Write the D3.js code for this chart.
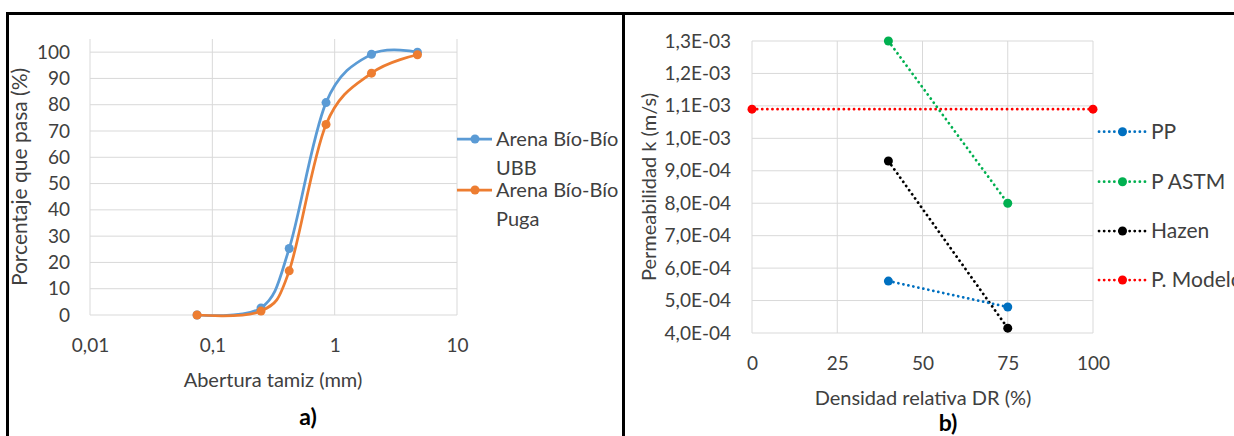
<!DOCTYPE html>
<html>
<head>
<meta charset="utf-8">
<script src="https://cdn.jsdelivr.net/npm/d3@7"></script>
<style>
  html, body { margin: 0; padding: 0; background: #fff; }
  svg { display: block; }
  text { font-family: Lato, "Noto Sans", sans-serif; fill: #404040; }
</style>
</head>
<body>
<svg id="chart" width="1234" height="436"></svg>
<script>
// ---------- Data: panel a) granulometry ----------
const sieveSizes = [0.075, 0.25, 0.425, 0.85, 2, 4.75];
const passUBB    = [0, 2.7, 25.3, 80.8, 99.2, 100];
const passPuga   = [0, 1.5, 16.8, 72.5, 92, 99];
const seriesNamesA = ["Arena Bío-Bío UBB", "Arena Bío-Bío Puga"];
const sieveTicks = [0.01, 0.1, 1, 10];
const sieveTickLabels = ["0,01", "0,1", "1", "10"];
const passTicks = [0, 10, 20, 30, 40, 50, 60, 70, 80, 90, 100];

// ---------- Data: panel b) permeability ----------
const densities = [40, 75];
const kPP    = [5.6e-4, 4.8e-4];
const kASTM  = [1.3e-3, 8.0e-4];
const kHazen = [9.3e-4, 4.15e-4];
const modeloDensities = [0, 100];
const kModelo = [1.09e-3, 1.09e-3];
const seriesNamesB = ["PP", "P ASTM", "Hazen", "P. Modelo"];
const drTicks = [0, 25, 50, 75, 100];
const kTicks = [4e-4, 5e-4, 6e-4, 7e-4, 8e-4, 9e-4, 1.0e-3, 1.1e-3, 1.2e-3, 1.3e-3];
const kTickLabels = ["4,0E-04", "5,0E-04", "6,0E-04", "7,0E-04", "8,0E-04", "9,0E-04",
                     "1,0E-03", "1,1E-03", "1,2E-03", "1,3E-03"];

const svg = d3.select("#chart");
svg.append("rect").attr("width", 1234).attr("height", 436).attr("fill", "#fff");

const gridColor = "#d9d9d9";
const FS_TICK = 19;
const FS = 20;

// ---------- Panel a ----------
const xA = d3.scaleLog().domain([0.01, 10]).range([90, 457]);
const yA = d3.scaleLinear().domain([0, 105]).range([315, 39]);

const gA = svg.append("g");
gA.selectAll("line.hg").data(passTicks).join("line")
  .attr("x1", xA(0.01)).attr("x2", xA(10))
  .attr("y1", d => yA(d)).attr("y2", d => yA(d))
  .attr("stroke", gridColor).attr("stroke-width", 1);
gA.selectAll("line.vg").data(sieveTicks).join("line")
  .attr("x1", d => xA(d)).attr("x2", d => xA(d))
  .attr("y1", yA(105)).attr("y2", yA(0))
  .attr("stroke", gridColor).attr("stroke-width", 1);

const axLeftA = gA.append("g").attr("transform", `translate(${xA(0.01)},0)`)
  .call(d3.axisLeft(yA).tickValues(passTicks).tickSize(0).tickPadding(20));
const axBotA = gA.append("g").attr("transform", `translate(0,${yA(0)})`)
  .call(d3.axisBottom(xA).tickValues(sieveTicks).tickSize(0).tickPadding(24)
    .tickFormat((d, i) => sieveTickLabels[i]));
[axLeftA, axBotA].forEach(a => {
  a.select(".domain").remove();
  a.selectAll("text").attr("font-size", FS_TICK).attr("font-family", null).attr("fill", "#404040");
});

const colorsA = ["#5B9BD5", "#ED7D31"];
const lineA = d3.line().x(d => xA(d[0])).y(d => yA(d[1])).curve(d3.curveCardinal.tension(0));
[passUBB, passPuga].forEach((vals, s) => {
  const pts = sieveSizes.map((x, i) => [x, vals[i]]);
  gA.append("path").datum(pts).attr("d", lineA)
    .attr("fill", "none").attr("stroke", colorsA[s]).attr("stroke-width", 2.75);
  gA.selectAll(null).data(pts).join("circle")
    .attr("cx", d => xA(d[0])).attr("cy", d => yA(d[1])).attr("r", 4.5)
    .attr("fill", colorsA[s]);
});

const legA = [{y: 139, lines: ["Arena Bío-Bío", "UBB"]}, {y: 190, lines: ["Arena Bío-Bío", "Puga"]}];
legA.forEach((L, s) => {
  gA.append("line").attr("x1", 457).attr("x2", 492).attr("y1", L.y).attr("y2", L.y)
    .attr("stroke", colorsA[s]).attr("stroke-width", 2.75);
  gA.append("circle").attr("cx", 475).attr("cy", L.y).attr("r", 4.5).attr("fill", colorsA[s]);
  L.lines.forEach((t, j) => {
    gA.append("text").attr("x", 496).attr("y", L.y + j * 29).attr("dy", "0.35em")
      .attr("font-size", FS).text(t);
  });
});

gA.append("text").attr("transform", "translate(20,177) rotate(-90)")
  .attr("text-anchor", "middle").attr("dy", "0.35em").attr("font-size", FS + 1)
  .text("Porcentaje que pasa (%)");
gA.append("text").attr("x", 273).attr("y", 380).attr("text-anchor", "middle")
  .attr("dy", "0.35em").attr("font-size", FS).text("Abertura tamiz (mm)");
gA.append("text").attr("x", 308).attr("y", 417).attr("text-anchor", "middle")
  .attr("dy", "0.35em").attr("font-size", 23).attr("font-weight", "bold")
  .style("fill", "#000").text("a)");

// ---------- Panel b ----------
const xB = d3.scaleLinear().domain([0, 100]).range([752, 1093]);
const yB = d3.scaleLinear().domain([4e-4, 1.3e-3]).range([333, 41]);
const gB = svg.append("g");

gB.selectAll("line.hg").data(kTicks).join("line")
  .attr("x1", xB(0)).attr("x2", xB(100))
  .attr("y1", d => yB(d)).attr("y2", d => yB(d))
  .attr("stroke", gridColor).attr("stroke-width", 1);
gB.selectAll("line.vg").data(drTicks).join("line")
  .attr("x1", d => xB(d)).attr("x2", d => xB(d))
  .attr("y1", yB(1.3e-3)).attr("y2", yB(4e-4))
  .attr("stroke", gridColor).attr("stroke-width", 1);

const axLeftB = gB.append("g").attr("transform", `translate(${xB(0)},0)`)
  .call(d3.axisLeft(yB).tickValues(kTicks).tickSize(0).tickPadding(21)
    .tickFormat((d, i) => kTickLabels[i]));
const axBotB = gB.append("g").attr("transform", `translate(0,${yB(4e-4)})`)
  .call(d3.axisBottom(xB).tickValues(drTicks).tickSize(0).tickPadding(24));
[axLeftB, axBotB].forEach(a => {
  a.select(".domain").remove();
  a.selectAll("text").attr("font-size", FS_TICK).attr("font-family", null).attr("fill", "#404040");
});

const colorsB = ["#0070C0", "#00B050", "#000000", "#FF0000"];
const seriesB = [
  densities.map((x, i) => [x, kPP[i]]),
  densities.map((x, i) => [x, kASTM[i]]),
  densities.map((x, i) => [x, kHazen[i]]),
  modeloDensities.map((x, i) => [x, kModelo[i]])
];
const lineB = d3.line().x(d => xB(d[0])).y(d => yB(d[1]));
const drawOrder = [3, 1, 2, 0];
drawOrder.forEach(s => {
  gB.append("path").datum(seriesB[s]).attr("d", lineB)
    .attr("fill", "none").attr("stroke", colorsB[s]).attr("stroke-width", 2.75)
    .attr("stroke-linecap", "round").attr("stroke-dasharray", "0.1 5");
});
drawOrder.forEach(s => {
  gB.selectAll(null).data(seriesB[s]).join("circle")
    .attr("cx", d => xB(d[0])).attr("cy", d => yB(d[1])).attr("r", 4.5)
    .attr("fill", colorsB[s]);
});

const legBY = [131.7, 181.7, 231, 280];
seriesNamesB.forEach((name, s) => {
  const y = legBY[s];
  gB.append("line").attr("x1", 1099).attr("x2", 1145).attr("y1", y).attr("y2", y)
    .attr("stroke", colorsB[s]).attr("stroke-width", 2.75)
    .attr("stroke-linecap", "round").attr("stroke-dasharray", "0.1 5");
  gB.append("circle").attr("cx", 1122.5).attr("cy", y).attr("r", 4.5).attr("fill", colorsB[s]);
  gB.append("text").attr("x", 1151).attr("y", y).attr("dy", "0.35em")
    .attr("font-size", FS + 1).text(name);
});

gB.append("text").attr("transform", "translate(649,187) rotate(-90)")
  .attr("text-anchor", "middle").attr("dy", "0.35em").attr("font-size", FS)
  .text("Permeabilidad k (m/s)");
gB.append("text").attr("x", 923).attr("y", 398).attr("text-anchor", "middle")
  .attr("dy", "0.35em").attr("font-size", FS).text("Densidad relativa DR (%)");
gB.append("text").attr("x", 948).attr("y", 423).attr("text-anchor", "middle")
  .attr("dy", "0.35em").attr("font-size", 23).attr("font-weight", "bold")
  .style("fill", "#000").text("b)");

// ---------- Frame borders ----------
svg.append("line").attr("x1", 6).attr("x2", 1234).attr("y1", 13.5).attr("y2", 13.5)
  .attr("stroke", "#000").attr("stroke-width", 3);
svg.append("line").attr("x1", 7.5).attr("x2", 7.5).attr("y1", 12).attr("y2", 436)
  .attr("stroke", "#000").attr("stroke-width", 3);
svg.append("line").attr("x1", 623.5).attr("x2", 623.5).attr("y1", 12).attr("y2", 436)
  .attr("stroke", "#000").attr("stroke-width", 3);
</script>
</body>
</html>
